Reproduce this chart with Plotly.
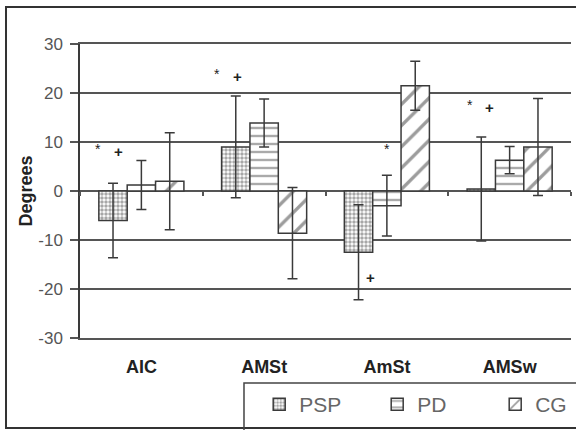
import plotly.graph_objects as go

categories = ["AIC", "AMSt", "AmSt", "AMSw"]
psp = [-6.0, 9.0, -12.5, 0.4]
psp_err = [7.6, 10.4, 9.7, 10.6]
pd_vals = [1.2, 13.9, -3.0, 6.3]
pd_err = [5.0, 4.9, 6.2, 2.8]
cg = [2.0, -8.6, 21.5, 9.0]
cg_err = [9.9, 9.3, 5.0, 9.9]

# significance marks: category index, offset within category, y value, symbol
sig_cat = [0, 0, 1, 1, 2, 2, 3, 3]
sig_dx = [-0.35, -0.19, -0.38, -0.22, 0.0, -0.13, -0.32, -0.16]
sig_y = [9.3, 8.0, 24.6, 23.3, 9.4, -17.6, 18.3, 17.1]
sig_text = ["*", "+", "*", "+", "*", "+", "*", "+"]

y_ticks = [-30, -20, -10, 0, 10, 20, 30]
y_tick_labels = ["-30", "-20", "-10", "0", "10", "20", "30"]

FONT = "Arial, Liberation Sans, sans-serif"
LINE = "#3a3a3a"
GRID = "#555555"

series = [
    ("PSP", psp, psp_err, dict(shape=".", size=4, solidity=0.6, fgcolor="#505050", bgcolor="white")),
    ("PD", pd_vals, pd_err, dict(shape="-", size=8, solidity=0.3, fgcolor="#555555", bgcolor="white")),
    ("CG", cg, cg_err, dict(shape="/", size=15, solidity=0.22, fgcolor="#3a3a3a", bgcolor="white")),
]

fig = go.Figure()
for name, vals, errs, pat in series:
    fig.add_trace(go.Bar(
        name=name, x=categories, y=vals,
        marker=dict(color="white", pattern=pat, line=dict(color=LINE, width=1.5)),
        error_y=dict(type="data", array=errs, visible=True, color=LINE, thickness=1.5, width=5),
    ))

# invisible trace for the zero-line category axis (boundary tick marks)
fig.add_trace(go.Scatter(x=categories, y=[0] * len(categories), xaxis="x2", mode="markers",
                         marker=dict(opacity=0), showlegend=False, hoverinfo="skip"))

for c, dx, yv, t in zip(sig_cat, sig_dx, sig_y, sig_text):
    big = t == "+"
    fig.add_annotation(x=c + dx, y=yv, xref="x", yref="y", text=t, showarrow=False,
                       font=dict(family=FONT, size=15 if big else 14, color="#222222",
                                 weight=700 if big else 400),
                       yshift=0 if big else -4)

fig.update_layout(
    width=576, height=430,
    margin=dict(l=80, r=5, t=44, b=92, autoexpand=False),
    paper_bgcolor="white", plot_bgcolor="white",
    barmode="group", bargap=0.307, bargroupgap=0,
    font=dict(family=FONT, color="#444444"),
    showlegend=True,
    legend=dict(orientation="h", xref="container", yref="container",
                x=0.45, y=0.107, xanchor="left", yanchor="top",
                font=dict(family=FONT, size=21, color="#666666"),
                bgcolor="rgba(0,0,0,0)", borderwidth=0,
                entrywidth=73, entrywidthmode="pixels"),
    xaxis=dict(type="category", categoryarray=categories, range=[-0.5, 3.5],
               showgrid=False, zeroline=False, showline=True, mirror=True,
               linecolor=GRID, linewidth=1.5, ticks="",
               tickfont=dict(family=FONT, size=18, color="#222222", weight=700),
               ticklabelstandoff=12),
    xaxis2=dict(type="category", categoryarray=categories, range=[-0.5, 3.5],
                overlaying="x", anchor="free", position=0.5, side="bottom",
                showgrid=False, zeroline=False, showline=False, showticklabels=False,
                ticks="outside", ticklen=4, tickwidth=1.5, tickcolor=GRID,
                tickson="boundaries"),
    yaxis=dict(range=[-30, 30], tickvals=y_ticks, ticktext=y_tick_labels,
               showgrid=True, gridcolor=GRID, gridwidth=1.5,
               zeroline=True, zerolinecolor=GRID, zerolinewidth=1.5,
               showline=True, linecolor=LINE, linewidth=1.5,
               ticks="outside", ticklen=8, tickwidth=1.5, tickcolor=GRID,
               tickfont=dict(family=FONT, size=17, color="#555555"),
               ticklabelstandoff=4,
               title=dict(text="<b>Degrees</b>", font=dict(family=FONT, size=18, color="#222222"),
                          standoff=1)),
)

# outer frame and legend box
fig.add_shape(type="rect", xref="paper", yref="paper", x0=-0.1507, x1=1.2, y0=-0.306, y1=1.126,
              line=dict(color="#333333", width=2), fillcolor="rgba(0,0,0,0)", layer="below")
fig.add_shape(type="rect", xref="paper", yref="paper", x0=0.334, x1=1.3, y0=-0.5, y1=-0.153,
              line=dict(color="#444444", width=1.5), fillcolor="rgba(0,0,0,0)", layer="below")

fig.write_html("out.html", config={"displayModeBar": False},
               post_script="document.body.style.margin='0px';")
